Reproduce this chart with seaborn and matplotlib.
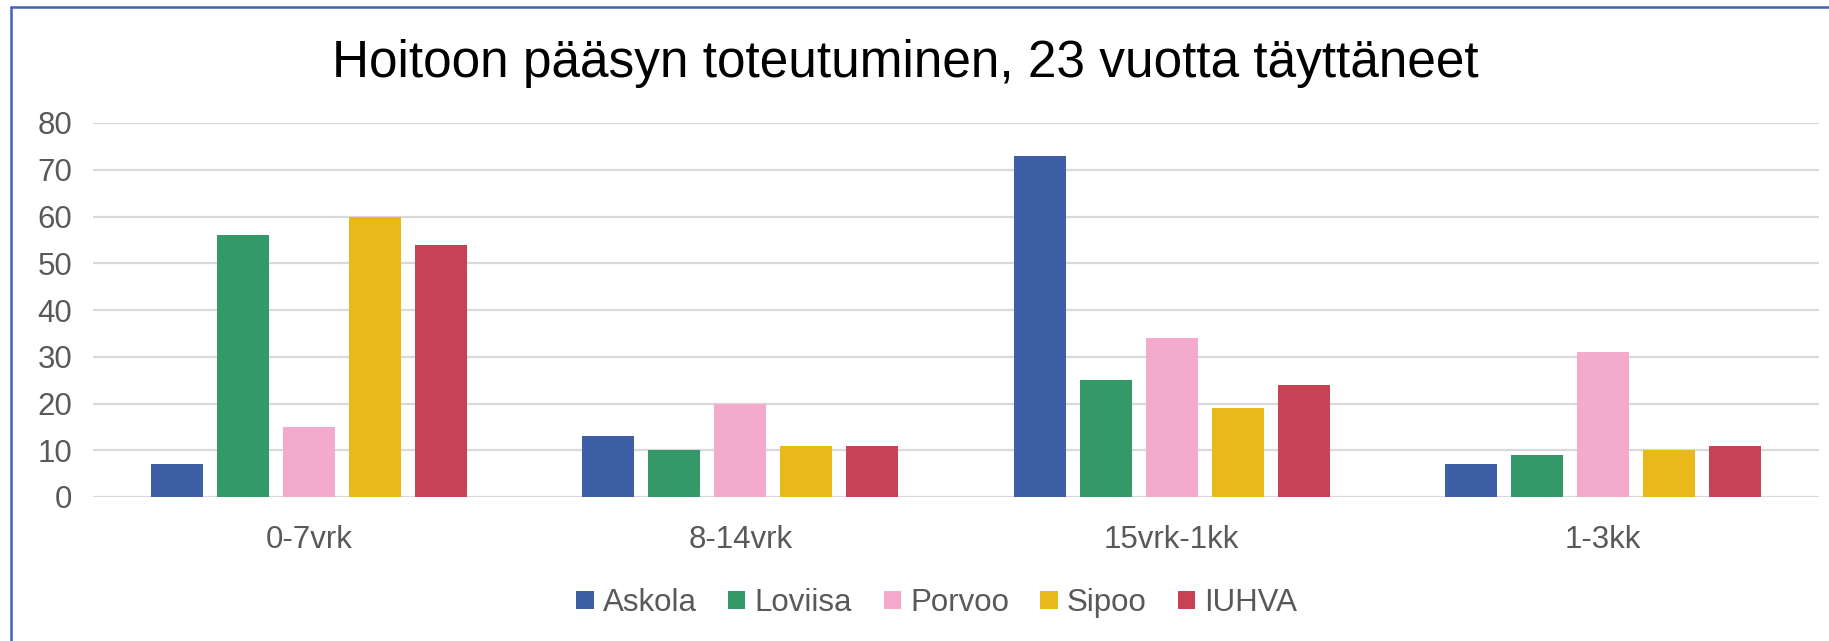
import numpy as np
import pandas as pd
import matplotlib
matplotlib.use("Agg")
import matplotlib.pyplot as plt
from matplotlib.lines import Line2D
import seaborn as sns

# ---- data ----
categories = ["0-7vrk", "8-14vrk", "15vrk-1kk", "1-3kk"]
series_names = ["Askola", "Loviisa", "Porvoo", "Sipoo", "IUHVA"]
askola = [7, 13, 73, 7]
loviisa = [56, 10, 25, 9]
porvoo = [15, 20, 34, 31]
sipoo = [60, 11, 19, 10]
iuhva = [54, 11, 24, 11]
yticks = [0, 10, 20, 30, 40, 50, 60, 70, 80]
title_text = "Hoitoon pääsyn toteutuminen, 23 vuotta täyttäneet"

colors = ["#3E5FA6", "#349968", "#F3AACD", "#E9B91B", "#C84256"]

values = [askola, loviisa, porvoo, sipoo, iuhva]
rows = []
for name, vals in zip(series_names, values):
    for cat, v in zip(categories, vals):
        rows.append({"Kategoria": cat, "Kunta": name, "Arvo": v})
df = pd.DataFrame(rows)

sns.set_theme(style="white")
plt.rcParams["font.family"] = ["Liberation Sans", "DejaVu Sans"]

W, H = 1829, 641
fig = plt.figure(figsize=(W / 100, H / 100), dpi=100)
ax = fig.add_axes([93 / W, 1 - 497 / H, (1819 - 93) / W, (497 - 123) / H])

sns.barplot(data=df, x="Kategoria", y="Arvo", hue="Kunta",
            order=categories, hue_order=series_names, palette=colors,
            width=0.765, gap=0.21, linewidth=0, saturation=1,
            errorbar=None, ax=ax)

ax.set_ylim(0, 80)
ax.set_xlim(-0.5, len(categories) - 0.5)
ax.set_yticks(yticks)
ax.set_yticklabels([str(t) for t in yticks])
ax.set_xlabel("")
ax.set_ylabel("")
for s in ax.spines.values():
    s.set_visible(False)
ax.yaxis.grid(True, color="#D9D9D9", linewidth=1.6)
ax.xaxis.grid(False)
ax.set_axisbelow(True)
ax.tick_params(axis="both", length=0, labelsize=22.5, labelcolor="#595959")
ax.tick_params(axis="y", pad=15)
ax.tick_params(axis="x", pad=20)

handles, labels = ax.get_legend_handles_labels()
leg = ax.legend(handles, labels, loc="center", ncol=5,
                bbox_to_anchor=(937 / W, 1 - 603 / H), bbox_transform=fig.transFigure,
                frameon=False, fontsize=22.5, handlelength=0.55, handleheight=0.55,
                handletextpad=0.3, columnspacing=1.0, borderaxespad=0)
for t in leg.get_texts():
    t.set_color("#595959")

fig.text(905 / W, 1 - 77 / H, title_text, ha="center", va="baseline",
         fontsize=37, color="black")

# frame border (left and top edges visible)
fig.add_artist(Line2D([10.5 / W, 10.5 / W], [0, 1 - 7 / H], color="#4263B3",
                      linewidth=1.8, transform=fig.transFigure))
fig.add_artist(Line2D([10.5 / W, 1], [1 - 7 / H, 1 - 7 / H], color="#4263B3",
                      linewidth=1.8, transform=fig.transFigure))

fig.savefig("out.png", dpi=100)
